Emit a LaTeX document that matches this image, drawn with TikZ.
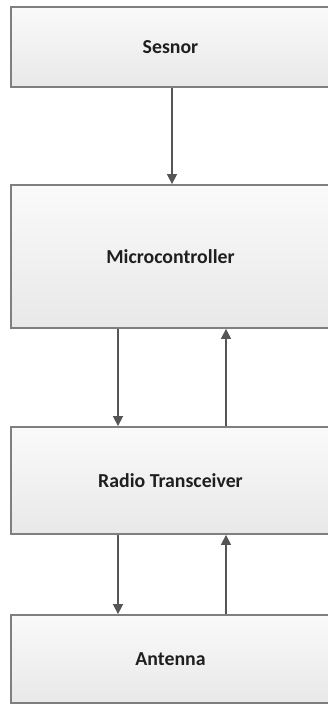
\documentclass[tikz,border=0pt]{standalone}
\usepackage{fontspec}
\setmainfont{Carlito}
\usetikzlibrary{arrows.meta}
\definecolor{boxline}{HTML}{7F7F7F}
\definecolor{arrline}{HTML}{555555}
\definecolor{txt}{HTML}{1F1F1F}
\tikzset{
  blk/.style={draw=boxline, line width=1.8pt, top color=white!98!black, bottom color=white!91!black,
    minimum width=319pt, inner sep=0pt, font=\bfseries\fontsize{19.8}{23}\selectfont, text=txt},
  arr/.style={draw=arrline, line width=1.5pt, -{Triangle[width=10pt,length=10pt]}}
}
\begin{document}
\begin{tikzpicture}[x=1pt,y=1pt]
\useasboundingbox (0,0) rectangle (328,-704);
\node[blk, minimum height=80pt] (s) at (170.5,-47) {Sesnor};
\node[blk, minimum height=143pt] (m) at (170.5,-256.5) {Microcontroller};
\node[blk, minimum height=107pt] (r) at (170.5,-480.5) {Radio Transceiver};
\node[blk, minimum height=88pt] (a) at (170.5,-659) {Antenna};
\draw[arr] ([xshift=1.5pt]s.south) -- ([xshift=1.5pt]m.north);
\draw[arr] ([xshift=-52.5pt]m.south) -- ([xshift=-52.5pt]r.north);
\draw[arr] ([xshift=55.5pt]r.north) -- ([xshift=55.5pt]m.south);
\draw[arr] ([xshift=-52.5pt]r.south) -- ([xshift=-52.5pt]a.north);
\draw[arr] ([xshift=55.5pt]a.north) -- ([xshift=55.5pt]r.south);
\end{tikzpicture}
\end{document}
